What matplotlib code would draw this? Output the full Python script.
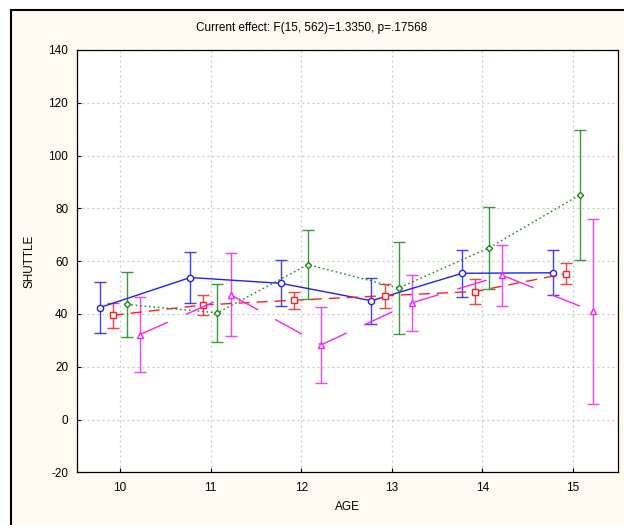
import matplotlib
matplotlib.use("Agg")
import matplotlib.pyplot as plt
from matplotlib.patches import Rectangle
import numpy as np

plt.rcParams['font.family'] = ['Liberation Sans', 'DejaVu Sans']
plt.rcParams['axes.unicode_minus'] = False

ages = [10, 11, 12, 13, 14, 15]

# group means and error half-widths of SHUTTLE by AGE
blue_mean = [42.4, 53.8, 51.6, 45.0, 55.4, 55.6]
blue_err = [9.7, 9.7, 8.7, 8.7, 9.0, 8.5]
red_mean = [39.5, 43.4, 45.2, 46.9, 48.5, 55.3]
red_err = [4.7, 3.9, 3.3, 4.6, 4.6, 3.9]
green_mean = [43.6, 40.4, 58.7, 49.8, 65.1, 85.1]
green_err = [12.3, 11.1, 13.2, 17.5, 15.6, 24.7]
magenta_mean = [32.2, 47.3, 28.3, 44.2, 54.6, 41.0]
magenta_err = [14.3, 15.6, 14.3, 10.5, 11.6, 35.0]

title = "Current effect: F(15, 562)=1.3350, p=.17568"

W, H = 624, 525
fig = plt.figure(figsize=(W / 100, H / 100), dpi=100, facecolor='white')
# cream panel with black frame, behind the axes (runs past the right and bottom edges)
fig.patches.append(Rectangle((11 / W, -0.05), 1.0, 1 - 10 / H + 0.05, transform=fig.transFigure,
                             facecolor='#fffbf0', edgecolor='black', linewidth=1.5, zorder=-5))

ax = fig.add_axes([76.5 / W, (H - 472.3) / H, 541 / W, 422.3 / H])
ax.set_zorder(1)
ax.set_facecolor('white')

series = [
    (blue_mean, blue_err, -0.225, '#2020ff', '-', 'o', 4.5),
    (red_mean, red_err, -0.08, '#ff2020', (0, (8, 5)), 's', 4.5),
    (green_mean, green_err, 0.075, '#1a8a1a', (0, (1.2, 2)), 'D', 3.2),
    (magenta_mean, magenta_err, 0.22, '#ff20ff', (0, (22, 14)), '^', 4.5),
]

for mean, err, off, col, ls, mk, ms in series:
    x = np.array(ages) + off
    ax.plot(x, mean, color=col, linestyle=ls, linewidth=1.0, marker=mk, markersize=ms,
            markerfacecolor='white', markeredgecolor=col, markeredgewidth=1.0, zorder=3)
    ax.errorbar(x, mean, yerr=err, fmt='none', ecolor=col, elinewidth=1.0,
                capsize=4, capthick=1.0, alpha=0.85, zorder=2)

ax.set_xlim(9.52, 15.49)
ax.set_ylim(-20, 140)
ax.set_xticks(ages)
ax.set_yticks(np.arange(-20, 141, 20))
ax.grid(True, color='#c8c8c8', linestyle=(0, (1.5, 2.5)), linewidth=0.9)
ax.set_axisbelow(True)
ax.tick_params(direction='in', length=3, labelsize=8.5, width=0.8)
ax.tick_params(axis='x', pad=7)
ax.tick_params(axis='y', pad=6)
for s in ax.spines.values():
    s.set_linewidth(0.9)

ax.set_xlabel("AGE", fontsize=8.5, labelpad=5)
ax.set_ylabel("SHUTTLE", fontsize=8.5, labelpad=9)
fig.text(0.5, 1 - 28 / H, title, ha='center', va='center', fontsize=8.5)

fig.savefig("out.png", dpi=100)
